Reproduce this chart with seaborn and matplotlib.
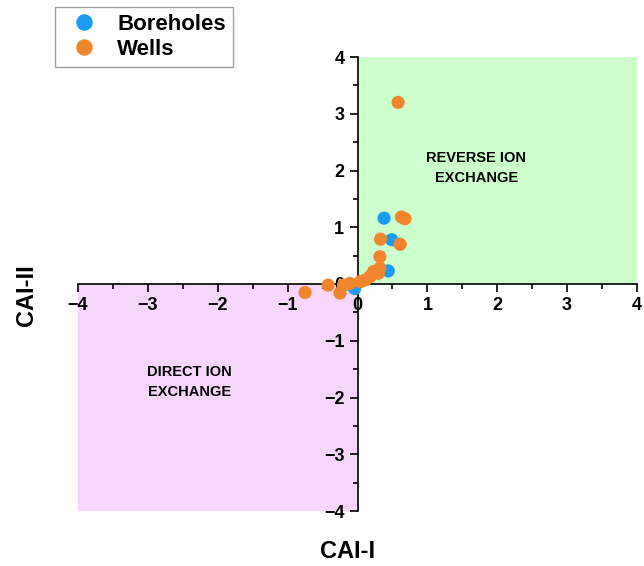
import pandas as pd
import seaborn as sns
import matplotlib.pyplot as plt
from matplotlib.ticker import MultipleLocator

# Data
bore_cai1 = [0.38, 0.49, 0.44, -0.04, -0.08]
bore_cai2 = [1.16, 0.78, 0.23, -0.08, -0.03]

well_cai1 = [0.58, 0.63, 0.68, 0.33, 0.61, 0.32, 0.32, 0.30, 0.23, 0.18, 0.11,
             0.04, -0.11, -0.20, -0.25, -0.42, -0.75]
well_cai2 = [3.20, 1.18, 1.15, 0.79, 0.70, 0.48, 0.28, 0.19, 0.22, 0.13, 0.07,
             0.04, 0.01, -0.02, -0.16, -0.02, -0.15]

groups = ["Boreholes", "Wells"]
colors = {"Boreholes": "#1a9cf0", "Wells": "#f0852d"}

df = pd.DataFrame({
    "CAI-I": bore_cai1 + well_cai1,
    "CAI-II": bore_cai2 + well_cai2,
    "group": ["Boreholes"] * len(bore_cai1) + ["Wells"] * len(well_cai1),
})

sns.set_style("white")
plt.rcParams["font.family"] = ["Liberation Sans", "DejaVu Sans"]
plt.rcParams["font.weight"] = "bold"
plt.rcParams["text.color"] = "black"
plt.rcParams["xtick.color"] = "black"
plt.rcParams["ytick.color"] = "black"

fig = plt.figure(figsize=(6.44, 5.66), dpi=100)
ax = fig.add_axes([78 / 644, 55 / 566, 559 / 644, 454 / 566])

# quadrant shading
ax.fill_between([0, 4], 0, 4, color="#ccffcc", zorder=0, lw=0)
ax.fill_between([-4, 0], -4, 0, color="#f6d6fa", zorder=0, lw=0)

sns.scatterplot(data=df, x="CAI-I", y="CAI-II", hue="group", hue_order=groups,
                palette=colors, s=90, edgecolor="none", ax=ax, zorder=3)

ax.set_xlim(-4, 4)
ax.set_ylim(-4, 4)
ax.spines["left"].set_position(("data", 0))
ax.spines["bottom"].set_position(("data", 0))
ax.spines["top"].set_visible(False)
ax.spines["right"].set_visible(False)
for sp in ["left", "bottom"]:
    ax.spines[sp].set_linewidth(1.2)
    ax.spines[sp].set_color("black")

ax.xaxis.set_major_locator(MultipleLocator(1))
ax.yaxis.set_major_locator(MultipleLocator(1))
ax.xaxis.set_minor_locator(MultipleLocator(0.5))
ax.yaxis.set_minor_locator(MultipleLocator(0.5))
ax.tick_params(which="major", direction="out", length=6, width=1.2,
               labelsize=13, bottom=True, left=True, colors="black")
ax.tick_params(which="minor", direction="out", length=3.5, width=1.2,
               bottom=True, left=True, colors="black")
for lab in ax.get_xticklabels() + ax.get_yticklabels():
    lab.set_fontweight("bold")

ax.set_xlabel("")
ax.set_ylabel("")
fig.text(348 / 644, 1 - 551 / 566, "CAI-I", ha="center", va="center",
         fontsize=17, fontweight="bold")
fig.text(27 / 644, 1 - 295 / 566, "CAI-II", ha="center", va="center",
         fontsize=17, fontweight="bold", rotation=90)

ax.text(1.7, 2.04, "REVERSE ION\nEXCHANGE", ha="center", va="center",
        fontsize=10.5, fontweight="bold", linespacing=1.5)
ax.text(-2.4, -1.73, "DIRECT ION\nEXCHANGE", ha="center", va="center",
        fontsize=10.5, fontweight="bold", linespacing=1.5)

leg = ax.legend(loc="upper left", bbox_to_anchor=(55 / 644, 1 - 7 / 566),
                bbox_transform=fig.transFigure, frameon=True, fancybox=False,
                prop={"size": 16, "weight": "bold"}, markerscale=1.25,
                handletextpad=0.5, handlelength=2.0, borderpad=0.3,
                labelspacing=0.2, borderaxespad=0)
leg.get_frame().set_edgecolor("#888888")
leg.get_frame().set_linewidth(1.0)

fig.savefig("out.png", dpi=100)
